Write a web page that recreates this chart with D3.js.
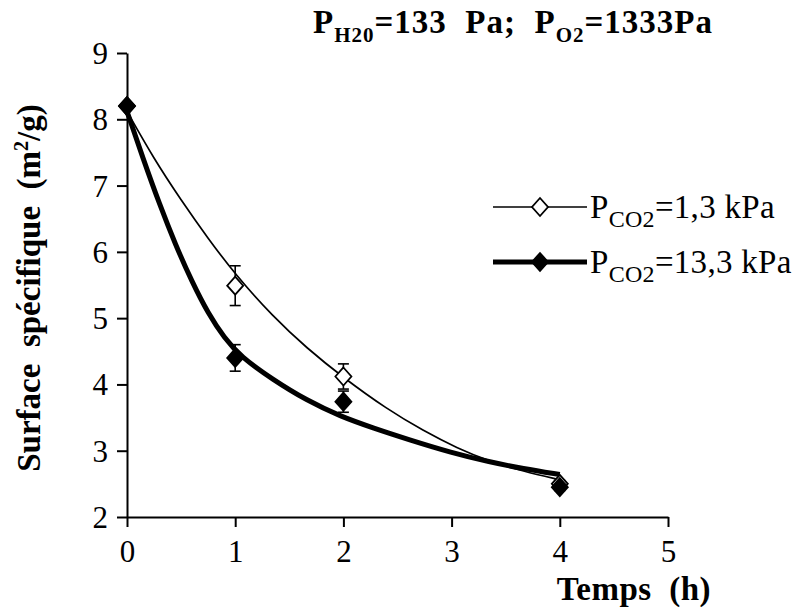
<!DOCTYPE html>
<html>
<head>
<meta charset="utf-8">
<script src="https://cdn.jsdelivr.net/npm/d3@7"></script>
<style>
  body { margin: 0; background: #fff; }
  svg { display: block; }
</style>
</head>
<body>
<div id="chart"></div>
<script>
// measured points (time in h, surface in m2/g)
var times = [0, 1, 2, 4]
var lowCO2 = [8.2, 5.49, 4.12, 2.5]
var lowCO2Err = [0, 0.3, 0.19, 0.05]
var highCO2 = [8.2, 4.4, 3.74, 2.45]
var highCO2Err = [0, 0.2, 0.16, 0.05]

// fitted curves
var fitTimesLow = [0, 0.25, 0.5, 0.75, 1.0, 1.35, 1.66, 2.0, 2.4, 2.74, 3.05, 3.35, 3.66, 4]
var fitLow = [8.12, 7.4, 6.78, 6.2, 5.66, 5.02, 4.55, 4.1, 3.63, 3.3, 3.04, 2.84, 2.69, 2.56]
var fitTimesHigh = [0, 0.15, 0.3, 0.45, 0.6, 0.75, 0.9, 1.05, 1.35, 1.66, 1.97, 2.28, 2.6, 3.0, 3.35, 3.66, 4]
var fitHigh = [8.12, 7.4, 6.72, 6.1, 5.55, 5.07, 4.7, 4.42, 4.07, 3.76, 3.52, 3.34, 3.17, 2.97, 2.83, 2.73, 2.64]

var xTicks = [0, 1, 2, 3, 4, 5]
var yTicks = [2, 3, 4, 5, 6, 7, 8, 9]

var width = 795
var height = 609
var serif = "'Liberation Serif', 'Times New Roman', serif"

var svg = d3.select('#chart').append('svg')
  .attr('width', width)
  .attr('height', height)

var x = d3.scaleLinear().domain([0, 5]).range([127, 668])
var y = d3.scaleLinear().domain([2, 9]).range([517, 53])

var xAxis = svg.append('g')
  .attr('transform', 'translate(0,' + y(2) + ')')
  .call(d3.axisBottom(x).tickValues(xTicks).tickFormat(d3.format('d'))
    .tickSize(10).tickSizeOuter(0).tickPadding(13))

var yAxis = svg.append('g')
  .attr('transform', 'translate(' + x(0) + ',0)')
  .call(d3.axisLeft(y).tickValues(yTicks).tickFormat(d3.format('d'))
    .tickSize(10).tickSizeOuter(0).tickPadding(9))

svg.selectAll('.domain').attr('stroke', '#000').attr('stroke-width', 2)
svg.selectAll('.tick line').attr('stroke', '#000').attr('stroke-width', 2)
svg.selectAll('.tick text')
  .attr('font-family', serif)
  .style('font-family', serif)
  .style('font-size', '31px')
  .attr('fill', '#000')
yAxis.selectAll('.tick text').attr('dy', '0.34em')

var line = d3.line()
  .x(function(d) { return x(d[0]) })
  .y(function(d) { return y(d[1]) })
  .curve(d3.curveBasis)

svg.append('path')
  .datum(d3.zip(fitTimesLow, fitLow))
  .attr('d', line)
  .attr('fill', 'none')
  .attr('stroke', '#000')
  .attr('stroke-width', 1.7)

svg.append('path')
  .datum(d3.zip(fitTimesHigh, fitHigh))
  .attr('d', line)
  .attr('fill', 'none')
  .attr('stroke', '#000')
  .attr('stroke-width', 5)

function diamond(cx, cy) {
  return 'M' + cx + ',' + (cy - 9) + 'L' + (cx + 8) + ',' + cy +
    'L' + cx + ',' + (cy + 9) + 'L' + (cx - 8) + ',' + cy + 'Z'
}

function drawSeries(values, errs, filled) {
  var pts = times.map(function(t, i) { return { t: t, v: values[i], e: errs[i] } })
  var g = svg.append('g')
  var bars = g.selectAll('g.err')
    .data(pts.filter(function(p) { return p.e > 0 }))
    .enter().append('g')
    .attr('stroke', '#000')
    .attr('stroke-width', 1.6)
  bars.append('line')
    .attr('x1', function(p) { return x(p.t) })
    .attr('x2', function(p) { return x(p.t) })
    .attr('y1', function(p) { return y(p.v + p.e) })
    .attr('y2', function(p) { return y(p.v - p.e) })
  bars.append('line')
    .attr('x1', function(p) { return x(p.t) - 5.5 })
    .attr('x2', function(p) { return x(p.t) + 5.5 })
    .attr('y1', function(p) { return y(p.v + p.e) })
    .attr('y2', function(p) { return y(p.v + p.e) })
  bars.append('line')
    .attr('x1', function(p) { return x(p.t) - 5.5 })
    .attr('x2', function(p) { return x(p.t) + 5.5 })
    .attr('y1', function(p) { return y(p.v - p.e) })
    .attr('y2', function(p) { return y(p.v - p.e) })
  g.selectAll('path')
    .data(pts)
    .enter().append('path')
    .attr('d', function(p) { return diamond(x(p.t), y(p.v)) })
    .attr('fill', filled ? '#000' : '#fff')
    .attr('stroke', '#000')
    .attr('stroke-width', 1.8)
}

drawSeries(lowCO2, lowCO2Err, false)
drawSeries(highCO2, highCO2Err, true)

// legend
var legend = [
  { label: '=1,3 kPa', width: 1.7, filled: false, y: 207 },
  { label: '=13,3 kPa', width: 5, filled: true, y: 262 }
]
legend.forEach(function(l) {
  svg.append('line')
    .attr('x1', 493).attr('x2', 587)
    .attr('y1', l.y).attr('y2', l.y)
    .attr('stroke', '#000')
    .attr('stroke-width', l.width)
  svg.append('path')
    .attr('d', diamond(540, l.y))
    .attr('fill', l.filled ? '#000' : '#fff')
    .attr('stroke', '#000')
    .attr('stroke-width', 1.8)
  var t = svg.append('text')
    .attr('x', 590)
    .attr('y', l.y + 11)
    .style('font-family', serif)
    .style('font-size', '33px')
    .style('letter-spacing', '0.3px')
  t.append('tspan').text('P')
  t.append('tspan').attr('dy', 9).style('font-size', '24px').text('CO2')
  t.append('tspan').attr('dy', -9).text(l.label)
})

// title
var title = svg.append('text')
  .attr('x', 313)
  .attr('y', 33)
  .style('font-family', serif)
  .style('font-size', '33px')
  .style('font-weight', 'bold')
  .style('letter-spacing', '1px')
  .style('white-space', 'pre')
title.append('tspan').text('P')
title.append('tspan').attr('dy', 9).style('font-size', '21px').text('H20')
title.append('tspan').attr('dy', -9).text('=133  Pa;  P')
title.append('tspan').attr('dy', 9).style('font-size', '21px').text('O2')
title.append('tspan').attr('dy', -9).text('=1333Pa')

// axis titles
svg.append('text')
  .attr('x', 711)
  .attr('y', 600)
  .attr('text-anchor', 'end')
  .style('font-family', serif)
  .style('font-size', '33px')
  .style('font-weight', 'bold')
  .style('letter-spacing', '0.5px')
  .style('white-space', 'pre')
  .text('Temps  (h)')

var yt = svg.append('text')
  .attr('transform', 'translate(40,288) rotate(-90)')
  .attr('text-anchor', 'middle')
  .style('font-family', serif)
  .style('font-size', '33px')
  .style('font-weight', 'bold')
  .style('white-space', 'pre')
yt.append('tspan').text('Surface  spécifique  (m')
yt.append('tspan').attr('dy', -12).style('font-size', '20px').text('2')
yt.append('tspan').attr('dy', 12).text('/g)')
</script>
</body>
</html>
